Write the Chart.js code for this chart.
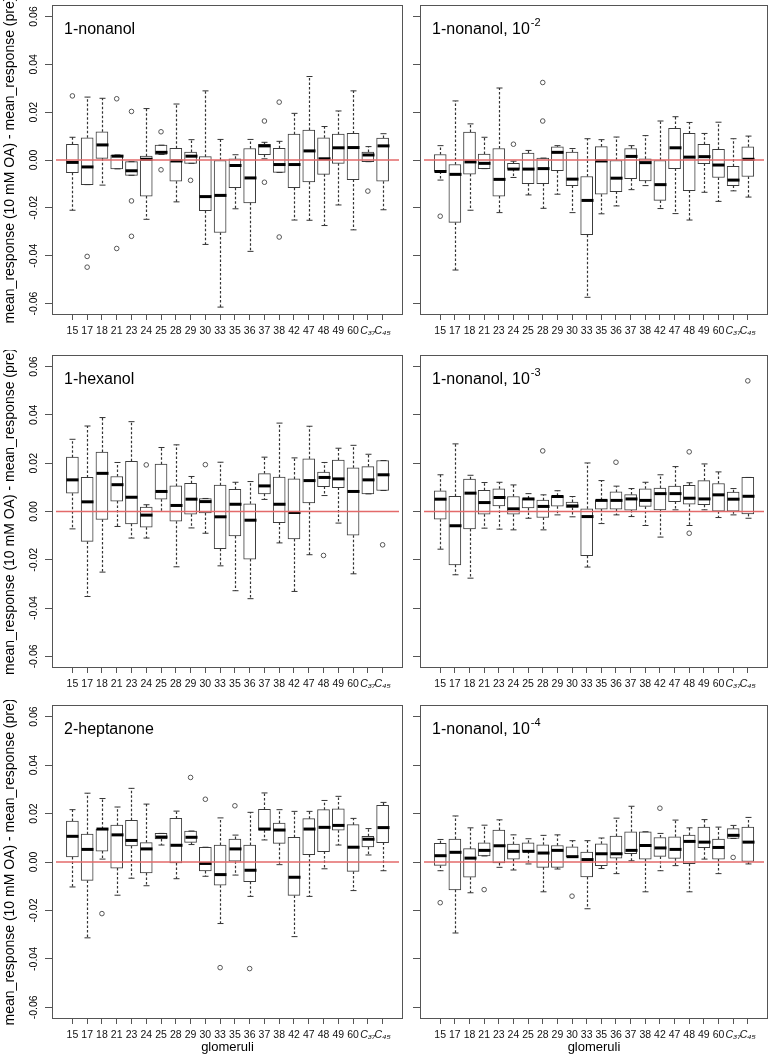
<!DOCTYPE html>
<html>
<head>
<meta charset="utf-8">
<title>Glomerular responses</title>
<style>
    body {
        margin: 0;
        background: #ffffff;
    }

    #wrap {
        position: relative;
        width: 773px;
        height: 1063px;
        background: #ffffff;
    }

    #wrap canvas {
        position: absolute;
    }
</style>
<script src="https://cdn.jsdelivr.net/npm/chart.js"></script>
</head>
<body>
<div id="wrap"></div>
<script>
    const glomeruli = ['15', '17', '18', '21', '23', '24', '25', '28', '29', '30', '33', '35', '36', '37', '38', '42', '47', '48', '49', '60', 'C\u2083\u2087', 'C\u2084\u2085'];
    const yTicks = [-0.06, -0.04, -0.02, 0, 0.02, 0.04, 0.06];
    const yTitle = 'mean_response (10 mM OA) - mean_response (pre)';

    // 1-nonanol
    const nonLo  = [-0.021, -0.0103, -0.0105, -0.0037, -0.0064, -0.0248, 0.0023, -0.0175, -0.0014, -0.0353, -0.0615, -0.0204, -0.0382, 0.0005, -0.0052, -0.0251, -0.0252, -0.0274, -0.0188, -0.0292, -0.0007, -0.0208];
    const nonQ1  = [-0.0053, -0.0103, 0.0007, -0.0037, -0.0064, -0.0151, 0.0023, -0.0089, -0.0014, -0.0212, -0.0303, -0.0116, -0.0179, 0.0022, -0.0052, -0.0116, -0.0092, -0.006, -0.0014, -0.0082, -0.0007, -0.0089];
    const nonMed = [-0.001, -0.0029, 0.0063, 0.0016, -0.0045, 0.0003, 0.0032, -0.0004, 0.0016, -0.0153, -0.0148, -0.0023, -0.0075, 0.0059, -0.0019, -0.0019, 0.0038, 0.0005, 0.0051, 0.0052, 0.0021, 0.0059];
    const nonQ3  = [0.0066, 0.0093, 0.0118, 0.0021, -0.0007, 0.0016, 0.0062, 0.0049, 0.0033, 0.0014, 0.0, 0.0005, 0.0048, 0.0066, 0.0049, 0.0108, 0.0125, 0.0093, 0.0108, 0.0111, 0.0033, 0.0092];
    const nonHi  = [0.0095, 0.0263, 0.0258, 0.0021, -0.0007, 0.0215, 0.0062, 0.0234, 0.0085, 0.0289, 0.0086, 0.0022, 0.0086, 0.0074, 0.0078, 0.0195, 0.0349, 0.014, 0.0205, 0.0289, 0.0056, 0.011];
    const nonOut = [[0, 0.0268], [1, -0.0403], [1, -0.0448], [3, 0.0256], [3, -0.037], [4, 0.0203], [4, -0.0171], [4, -0.0319], [6, 0.0118], [6, -0.0041], [8, -0.0085], [13, 0.0163], [13, -0.0093], [14, 0.0242], [14, -0.0322], [20, -0.013]];

    // 1-nonanol, 10^-2
    const n2Lo  = [-0.0084, -0.046, -0.021, -0.0036, -0.022, -0.0073, -0.0146, -0.0202, -0.0143, -0.022, -0.0574, -0.0225, -0.0192, -0.0124, -0.0107, -0.0203, -0.0224, -0.0251, -0.0135, -0.0173, -0.0129, -0.0155];
    const n2Q1  = [-0.0048, -0.0261, -0.0059, -0.0036, -0.0151, -0.0038, -0.0099, -0.0099, -0.0045, -0.0107, -0.0312, -0.0143, -0.0132, -0.0078, -0.0087, -0.0169, -0.0036, -0.0128, -0.0015, -0.0073, -0.0107, -0.0069];
    const n2Med = [-0.0048, -0.006, -0.0008, -0.0014, -0.0081, -0.0038, -0.0038, -0.0036, 0.0032, -0.008, -0.0169, -0.0004, -0.0076, 0.0015, -0.0011, -0.0103, 0.0051, 0.0012, 0.0014, -0.0021, -0.0084, 0.0003];
    const n2Q3  = [0.0023, -0.0019, 0.0117, 0.0025, 0.0048, -0.0014, 0.0029, 0.0008, 0.0055, 0.0033, -0.0069, 0.0056, 0.0, 0.0048, 0.0005, 0.0, 0.0132, 0.0111, 0.0066, 0.0045, -0.0026, 0.0055];
    const n2Hi  = [0.006, 0.0247, 0.0151, 0.0095, 0.0301, -0.0005, 0.004, 0.0008, 0.006, 0.0048, 0.0089, 0.0085, 0.0096, 0.006, 0.0102, 0.0163, 0.0181, 0.0157, 0.0111, 0.0158, 0.0089, 0.01];
    const n2Out = [[0, -0.0235], [5, 0.0066], [7, 0.0324], [7, 0.0163]];

    // 1-hexanol
    const hexLo  = [-0.0072, -0.0352, -0.0251, -0.0062, -0.011, -0.011, 0.0, -0.0229, -0.0068, -0.009, -0.0225, -0.0328, -0.0361, 0.005, -0.013, -0.0331, -0.0179, 0.0066, -0.0048, -0.0258, 0.0073, 0.0087];
    const hexQ1  = [0.0076, -0.0124, -0.0033, 0.0043, -0.0051, -0.0065, 0.0051, -0.004, -0.0011, -0.0006, -0.0154, -0.0101, -0.0197, 0.0073, -0.0046, -0.0114, 0.0036, 0.0103, 0.0099, -0.0098, 0.0073, 0.0087];
    const hexMed = [0.0131, 0.004, 0.0158, 0.0111, 0.0059, -0.0015, 0.0083, 0.0025, 0.0051, 0.0041, -0.0022, 0.003, -0.0036, 0.0106, 0.003, -0.0004, 0.0128, 0.0141, 0.0135, 0.0083, 0.0131, 0.0152];
    const hexQ3  = [0.0225, 0.0141, 0.0246, 0.0145, 0.0208, 0.0018, 0.0196, 0.0106, 0.0117, 0.0054, 0.0109, 0.0092, 0.0032, 0.0157, 0.0143, 0.0135, 0.0218, 0.0163, 0.0213, 0.0181, 0.0186, 0.0211];
    const hexHi  = [0.0299, 0.0354, 0.0389, 0.0203, 0.0372, 0.0028, 0.0265, 0.0276, 0.0145, 0.0054, 0.0204, 0.0121, 0.0124, 0.0225, 0.0366, 0.0222, 0.0353, 0.0203, 0.0262, 0.0274, 0.0237, 0.0211];
    const hexOut = [[5, 0.0193], [9, 0.0194], [17, -0.0182], [21, -0.0138]];

    // 1-nonanol, 10^-3
    const n3Lo  = [-0.0156, -0.0262, -0.0276, -0.0069, -0.0073, -0.0076, -0.0028, -0.0076, -0.0014, -0.0022, -0.023, -0.005, -0.0014, -0.0021, -0.0058, -0.0106, 0.0007, -0.0058, 0.0007, -0.0025, -0.0014, -0.0028];
    const n3Q1  = [-0.0032, -0.0221, -0.0072, -0.0011, 0.0023, -0.0011, 0.0015, -0.0025, 0.0022, 0.0017, -0.0183, 0.001, 0.001, 0.0006, 0.0021, 0.0007, 0.0041, 0.003, 0.0028, 0.0001, 0.0001, -0.001];
    const n3Med = [0.0051, -0.0059, 0.0076, 0.0037, 0.0058, 0.0011, 0.0052, 0.0021, 0.0062, 0.0023, -0.0021, 0.0046, 0.0046, 0.0052, 0.0046, 0.0074, 0.0074, 0.0055, 0.0052, 0.0069, 0.0051, 0.0063];
    const n3Q3  = [0.0086, 0.0063, 0.0134, 0.0088, 0.0094, 0.0062, 0.0054, 0.0047, 0.0065, 0.0039, 0.0011, 0.0048, 0.0081, 0.007, 0.0094, 0.0097, 0.0105, 0.0108, 0.0128, 0.0116, 0.008, 0.0141];
    const n3Hi  = [0.0152, 0.028, 0.015, 0.012, 0.0121, 0.011, 0.0074, 0.0069, 0.0086, 0.0062, 0.0201, 0.0128, 0.0105, 0.0095, 0.0121, 0.0152, 0.0186, 0.0119, 0.0197, 0.0164, 0.0095, 0.0141];
    const n3Out = [[7, 0.0251], [12, 0.0204], [17, 0.0247], [17, -0.009], [21, 0.0541]];

    // 2-heptanone
    const hepLo  = [-0.0103, -0.0313, 0.0012, -0.0137, -0.0067, -0.0098, 0.007, -0.0069, 0.0072, -0.0059, -0.0254, -0.0054, -0.0142, 0.0091, -0.0011, -0.0308, -0.0142, -0.0028, 0.007, -0.0118, 0.0029, -0.0036];
    const hepQ1  = [0.0021, -0.0076, 0.0045, -0.0025, 0.0066, -0.0045, 0.0095, -0.0004, 0.0081, -0.0037, -0.0096, 0.0003, -0.0081, 0.0131, 0.0077, -0.0138, 0.003, 0.0043, 0.0131, -0.0039, 0.0062, 0.008];
    const hepMed = [0.0106, 0.0052, 0.0136, 0.0112, 0.0089, 0.0054, 0.0103, 0.0069, 0.0102, -0.0006, -0.0052, 0.0054, -0.0034, 0.0136, 0.0132, -0.0063, 0.0136, 0.0143, 0.0151, 0.0061, 0.0094, 0.0142];
    const hepQ3  = [0.0169, 0.0115, 0.0136, 0.0152, 0.0172, 0.008, 0.0118, 0.018, 0.0128, 0.0061, 0.007, 0.0095, 0.007, 0.0217, 0.0161, 0.0102, 0.0179, 0.0216, 0.0219, 0.0154, 0.0106, 0.0234];
    const hepHi  = [0.0216, 0.0284, 0.0262, 0.0227, 0.0304, 0.0239, 0.0118, 0.021, 0.0128, 0.0061, 0.0182, 0.0111, 0.0205, 0.0285, 0.0216, 0.0209, 0.0209, 0.0254, 0.0271, 0.018, 0.0138, 0.0246];
    const hepOut = [[2, -0.0213], [8, 0.0349], [9, 0.0259], [10, -0.0436], [11, 0.0232], [12, -0.044]];

    // 1-nonanol, 10^-4
    const n4Lo  = [-0.0036, -0.0293, -0.0127, 0.0025, -0.0022, -0.0033, -0.0008, -0.0123, -0.0029, 0.0022, -0.0193, -0.0027, -0.0048, 0.0005, -0.0123, -0.0036, -0.0015, -0.0123, 0.0012, -0.0048, 0.0097, -0.0008];
    const n4Q1  = [-0.0014, -0.0115, -0.0063, 0.0025, -0.0004, 0.0012, 0.0044, -0.0022, -0.0022, 0.0022, -0.0062, -0.0015, 0.0016, 0.0034, 0.0012, 0.0023, 0.0015, -0.0007, 0.0059, 0.0012, 0.0097, 0.0];
    const n4Med = [0.0026, 0.004, 0.0016, 0.0048, 0.0067, 0.0044, 0.0044, 0.0037, 0.0048, 0.0022, 0.001, 0.0034, 0.0034, 0.0048, 0.0068, 0.0058, 0.0052, 0.0085, 0.0082, 0.006, 0.011, 0.0082];
    const n4Q3  = [0.0077, 0.0095, 0.0055, 0.0079, 0.0132, 0.0074, 0.0079, 0.0071, 0.0068, 0.0063, 0.0041, 0.0075, 0.0107, 0.0125, 0.0125, 0.0101, 0.0104, 0.0111, 0.0144, 0.0095, 0.0138, 0.0144];
    const n4Hi  = [0.0093, 0.019, 0.0141, 0.0152, 0.0174, 0.0112, 0.0096, 0.011, 0.0112, 0.0088, 0.0088, 0.0099, 0.0181, 0.023, 0.0125, 0.0118, 0.0173, 0.0141, 0.0175, 0.0144, 0.0151, 0.0184];
    const n4Out = [[0, -0.0168], [3, -0.0114], [9, -0.0141], [15, 0.0222], [20, 0.0019]];

    const panels = [
        { title: '1-nonanol', sup: '', lo: nonLo, q1: nonQ1, med: nonMed, q3: nonQ3, hi: nonHi, out: nonOut, col: 0, top: 0, h: 350, padTop: 1, xH: 35, last: false },
        { title: '1-nonanol, 10', sup: '-2', lo: n2Lo, q1: n2Q1, med: n2Med, q3: n2Q3, hi: n2Hi, out: n2Out, col: 1, top: 0, h: 350, padTop: 1, xH: 35, last: false },
        { title: '1-hexanol', sup: '', lo: hexLo, q1: hexQ1, med: hexMed, q3: hexQ3, hi: hexHi, out: hexOut, col: 0, top: 350, h: 350, padTop: 5, xH: 32, last: false },
        { title: '1-nonanol, 10', sup: '-3', lo: n3Lo, q1: n3Q1, med: n3Med, q3: n3Q3, hi: n3Hi, out: n3Out, col: 1, top: 350, h: 350, padTop: 5, xH: 32, last: false },
        { title: '2-heptanone', sup: '', lo: hepLo, q1: hepQ1, med: hepMed, q3: hepQ3, hi: hepHi, out: hepOut, col: 0, top: 700, h: 363, padTop: 5, xH: 44, last: true },
        { title: '1-nonanol, 10', sup: '-4', lo: n4Lo, q1: n4Q1, med: n4Med, q3: n4Q3, hi: n4Hi, out: n4Out, col: 1, top: 700, h: 363, padTop: 5, xH: 44, last: true }
    ];

    Chart.defaults.font.family = "'Liberation Sans', Arial, Helvetica, sans-serif";
    Chart.defaults.color = '#000';

    // whiskers, staples, medians, zero line, frame and the panel caption
    function boxParts(p) {
        return {
            id: 'boxparts',
            afterDatasetsDraw(chart) {
                const { ctx, chartArea: a, scales: { x, y } } = chart;
                ctx.save();
                ctx.beginPath();
                ctx.rect(a.left, a.top, a.right - a.left, a.bottom - a.top);
                ctx.clip();
                p.med.forEach((m, i) => {
                    const cx = Math.round(x.getPixelForValue(i + 1)) + 0.5;
                    ctx.strokeStyle = '#333';
                    ctx.lineWidth = 1.2;
                    ctx.setLineDash([2.5, 2]);
                    ctx.beginPath();
                    ctx.moveTo(cx, y.getPixelForValue(p.q3[i]));
                    ctx.lineTo(cx, y.getPixelForValue(p.hi[i]));
                    ctx.moveTo(cx, y.getPixelForValue(p.q1[i]));
                    ctx.lineTo(cx, y.getPixelForValue(p.lo[i]));
                    ctx.stroke();
                    ctx.setLineDash([]);
                    ctx.lineWidth = 1;
                    ctx.beginPath();
                    [p.hi[i], p.lo[i]].forEach(v => {
                        const py = y.getPixelForValue(v);
                        ctx.moveTo(cx - 3, py);
                        ctx.lineTo(cx + 3, py);
                    });
                    ctx.stroke();
                    const my = y.getPixelForValue(m);
                    ctx.strokeStyle = '#000';
                    ctx.lineWidth = 3;
                    ctx.beginPath();
                    ctx.moveTo(cx - 6, my);
                    ctx.lineTo(cx + 6, my);
                    ctx.stroke();
                });
                const zy = y.getPixelForValue(0);
                ctx.strokeStyle = '#e36a6a';
                ctx.lineWidth = 1.3;
                ctx.beginPath();
                ctx.moveTo(a.left + 4, zy);
                ctx.lineTo(a.right - 4, zy);
                ctx.stroke();
                ctx.restore();

                ctx.save();
                ctx.strokeStyle = '#555';
                ctx.lineWidth = 1;
                ctx.strokeRect(Math.round(a.left) + 0.5, Math.round(a.top) + 0.5, Math.round(a.right - a.left) - 1, Math.round(a.bottom - a.top) - 1);

                ctx.fillStyle = '#000';
                ctx.textBaseline = 'middle';
                ctx.textAlign = 'left';
                ctx.font = "16px 'Liberation Sans', Arial, sans-serif";
                const tx = a.left + 12, ty = a.top + 25;
                ctx.fillText(p.title, tx, ty);
                if (p.sup) {
                    const w = ctx.measureText(p.title).width;
                    ctx.font = "11px 'Liberation Sans', Arial, sans-serif";
                    ctx.fillText(p.sup, tx + w + 1, ty - 7);
                }

                if (p.col === 0) {
                    ctx.font = "10.5px 'Liberation Sans', Arial, sans-serif";
                    ctx.textAlign = 'center';
                    yTicks.forEach(v => {
                        ctx.save();
                        ctx.translate(a.left - 18, y.getPixelForValue(v));
                        ctx.rotate(-Math.PI / 2);
                        ctx.fillText(v.toFixed(2), 0, 0);
                        ctx.restore();
                    });
                }
                ctx.restore();
            }
        };
    }

    const wrap = document.getElementById('wrap');

    panels.forEach(p => {
        const canvas = document.createElement('canvas');
        const left = p.col === 0 ? 0 : 410;
        const width = p.col === 0 ? 410 : 363;
        canvas.width = width;
        canvas.height = p.h;
        canvas.style.left = left + 'px';
        canvas.style.top = p.top + 'px';
        canvas.style.width = width + 'px';
        canvas.style.height = p.h + 'px';
        wrap.appendChild(canvas);

        new Chart(canvas.getContext('2d'), {
            type: 'bar',
            data: {
                datasets: [{
                    type: 'bar',
                    data: p.q1.map((q, i) => ({ x: i + 1, y: [q, p.q3[i]] })),
                    backgroundColor: '#ffffff',
                    borderColor: '#3c3c3c',
                    borderWidth: 1,
                    borderSkipped: false,
                    barThickness: 12
                }, {
                    type: 'scatter',
                    data: p.out.map(o => ({ x: o[0] + 1, y: o[1] })),
                    pointStyle: 'circle',
                    pointRadius: 2.3,
                    pointBorderWidth: 1,
                    pointBorderColor: '#555',
                    pointBackgroundColor: 'rgba(0,0,0,0)'
                }]
            },
            options: {
                responsive: false,
                animation: false,
                layout: {
                    padding: { top: p.padTop, right: p.col === 0 ? 7 : 2, bottom: 0, left: 0 }
                },
                plugins: {
                    legend: { display: false },
                    tooltip: { enabled: false }
                },
                scales: {
                    x: {
                        type: 'linear',
                        min: -0.38,
                        max: 23.38,
                        offset: false,
                        afterBuildTicks: s => { s.ticks = glomeruli.map((g, i) => ({ value: i + 1 })); },
                        afterFit: s => { s.height = p.xH; },
                        grid: { offset: false, drawOnChartArea: false, drawTicks: true, tickLength: 5, color: '#555' },
                        border: { display: false },
                        ticks: {
                            autoSkip: false,
                            maxRotation: 0,
                            minRotation: 0,
                            padding: 5,
                            color: '#111',
                            font: c => ({ size: 10.5, style: c.index >= 20 ? 'italic' : 'normal' }),
                            callback: (v, i) => glomeruli[i]
                        },
                        title: {
                            display: p.last,
                            text: 'glomeruli',
                            color: '#000',
                            font: { size: 13 },
                            padding: { top: 0, bottom: 8 }
                        }
                    },
                    y: {
                        min: -0.0648,
                        max: 0.0648,
                        afterBuildTicks: s => { s.ticks = yTicks.map(v => ({ value: v })); },
                        afterFit: s => { s.width = p.col === 0 ? 52 : 10; },
                        grid: { drawOnChartArea: false, drawTicks: true, tickLength: 7, color: '#555' },
                        border: { display: false },
                        ticks: { display: false },
                        title: {
                            display: p.col === 0,
                            text: yTitle,
                            color: '#000',
                            font: { size: 14 },
                            padding: { top: 2, bottom: 0 }
                        }
                    }
                }
            },
            plugins: [boxParts(p)]
        });
    });
</script>
</body>
</html>
